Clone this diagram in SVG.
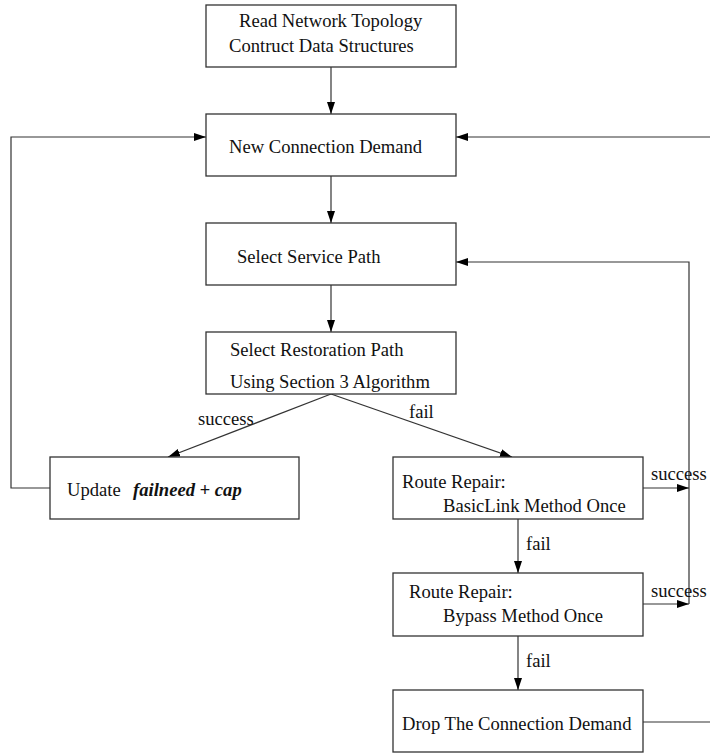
<svg xmlns="http://www.w3.org/2000/svg" width="710" height="754" viewBox="0 0 710 754">
<defs>
<marker id="arr" markerUnits="userSpaceOnUse" markerWidth="13" markerHeight="9" refX="12" refY="4" orient="auto">
<path d="M0,0 L12,4 L0,8 z" fill="#000"/>
</marker>
<style>
.box{fill:#fff;stroke:#333;stroke-width:1.3}
.t{font-family:"Liberation Serif","Times New Roman",serif;font-size:18.6px;fill:#111}
.bi{font-weight:bold;font-style:italic}
.c{fill:none;stroke:#333;stroke-width:1.2}
.a{marker-end:url(#arr)}
</style>
</defs>
<rect width="710" height="754" fill="#fff"/>
<g id="connectors">
<line class="c a" x1="331" y1="67" x2="331" y2="114"/>
<line class="c a" x1="331" y1="176" x2="331" y2="223"/>
<line class="c a" x1="331" y1="285" x2="331" y2="332"/>
<line class="c a" x1="331" y1="394" x2="168" y2="457"/>
<line class="c a" x1="331" y1="394" x2="512" y2="457"/>
<polyline class="c a" points="50,488 11,488 11,137 206,137"/>
<line class="c a" x1="710" y1="137" x2="456" y2="137"/>
<polyline class="c a" points="689,604 689,262 456,262"/>
<line class="c a" x1="643" y1="488" x2="689" y2="488"/>
<line class="c a" x1="643" y1="604" x2="689" y2="604"/>
<line class="c a" x1="518" y1="519" x2="518" y2="573"/>
<line class="c a" x1="518" y1="636" x2="518" y2="690"/>
<line class="c" x1="643" y1="722" x2="710" y2="722"/>
<text class="t" x="198" y="425">success</text>
<text class="t" x="409" y="418">fail</text>
<text class="t" x="651" y="480">success</text>
<text class="t" x="651" y="597">success</text>
<text class="t" x="526" y="550">fail</text>
<text class="t" x="526" y="667">fail</text>
</g>
<g id="read">
<rect class="box" x="206" y="5" width="250" height="62"/>
<text class="t" x="239" y="27">Read Network Topology</text>
<text class="t" x="229" y="52">Contruct Data Structures</text>
</g>
<g id="newdemand">
<rect class="box" x="206" y="114" width="250" height="62"/>
<text class="t" x="229" y="153">New Connection Demand</text>
</g>
<g id="service">
<rect class="box" x="206" y="223" width="250" height="62"/>
<text class="t" x="237" y="263">Select Service Path</text>
</g>
<g id="restoration">
<rect class="box" x="206" y="332" width="250" height="62"/>
<text class="t" x="230" y="356">Select Restoration Path</text>
<text class="t" x="230" y="388">Using Section 3 Algorithm</text>
</g>
<g id="update">
<rect class="box" x="50" y="457" width="249" height="62"/>
<text class="t" x="67" y="496">Update <tspan class="bi" x="133">failneed + cap</tspan></text>
</g>
<g id="basiclink">
<rect class="box" x="393" y="457" width="250" height="62"/>
<text class="t" x="402" y="488">Route Repair:</text>
<text class="t" x="443" y="512">BasicLink Method Once</text>
</g>
<g id="bypass">
<rect class="box" x="393" y="573" width="250" height="63"/>
<text class="t" x="409" y="598">Route Repair:</text>
<text class="t" x="443" y="622">Bypass Method Once</text>
</g>
<g id="drop">
<rect class="box" x="393" y="690" width="250" height="62"/>
<text class="t" x="402" y="730">Drop The Connection Demand</text>
</g>
</svg>
